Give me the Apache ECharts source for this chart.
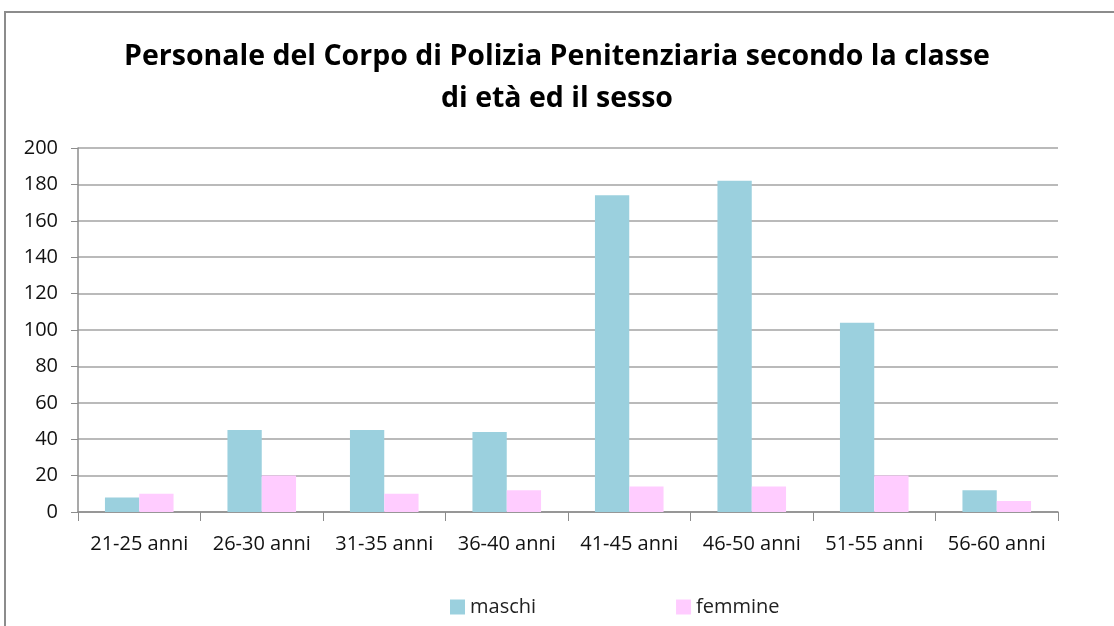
<!DOCTYPE html>
<html>
<head>
<meta charset="utf-8">
<script src="https://cdn.jsdelivr.net/npm/echarts@6/dist/echarts.min.js"></script>
<style>
  html, body { margin: 0; padding: 0; background: #fff; }
  #chart { width: 1114px; height: 626px; }
</style>
</head>
<body>
<div id="chart"></div>
<script>
var classiEta = ['21-25 anni', '26-30 anni', '31-35 anni', '36-40 anni', '41-45 anni', '46-50 anni', '51-55 anni', '56-60 anni'];
var maschi = [8, 45, 45, 44, 174, 182, 104, 12];
var femmine = [10, 20, 10, 12, 14, 14, 20, 6];

var chart = echarts.init(document.getElementById('chart'));

var font = '"Open Sans", Lato, sans-serif';

var option = {
	backgroundColor: '#fff',
	animation: false,
	graphic: [{
		// cornice del grafico
		type: 'rect',
		shape: { x: 5, y: 12, width: 1130, height: 700 },
		style: { fill: 'none', stroke: '#8c8c8c', lineWidth: 2 }
	}],
	title: {
		text: 'Personale del Corpo di Polizia Penitenziaria secondo la classe\ndi età ed il sesso',
		left: 'center',
		top: 31,
		textStyle: {
			fontFamily: font,
			fontSize: 28.5,
			fontWeight: 'bold',
			color: '#000',
			lineHeight: 42
		}
	},
	legend: {
		data: ['maschi', 'femmine'],
		left: 445,
		top: 592,
		itemWidth: 15,
		itemHeight: 15,
		itemGap: 140,
		icon: 'rect',
		textStyle: { fontFamily: font, fontSize: 20, color: '#222' }
	},
	grid: {
		left: 78,
		right: 56,
		top: 148,
		bottom: 114,
		containLabel: false
	},
	xAxis: {
		type: 'category',
		data: classiEta,
		axisLine: { lineStyle: { color: '#8c8c8c', width: 1.5 } },
		axisTick: { show: true, length: 9, lineStyle: { color: '#8c8c8c' } },
		axisLabel: { interval: 0, fontFamily: font, fontSize: 20, color: '#111', margin: 22 }
	},
	yAxis: {
		type: 'value',
		min: 0,
		max: 200,
		interval: 20,
		axisLine: { show: true, lineStyle: { color: '#8c8c8c', width: 1.5 } },
		axisTick: { show: true, length: 7, lineStyle: { color: '#8c8c8c' } },
		axisLabel: { fontFamily: font, fontSize: 20, color: '#111', margin: 20 },
		splitLine: { lineStyle: { color: '#a3a3a3', width: 1.5 } }
	},
	series: [{
		name: 'maschi',
		type: 'bar',
		data: maschi,
		barGap: '0%',
		barCategoryGap: '44%',
		itemStyle: { color: '#9bd0de' }
	}, {
		name: 'femmine',
		type: 'bar',
		data: femmine,
		itemStyle: { color: '#ffccff' }
	}]
};

chart.setOption(option);
</script>
</body>
</html>
